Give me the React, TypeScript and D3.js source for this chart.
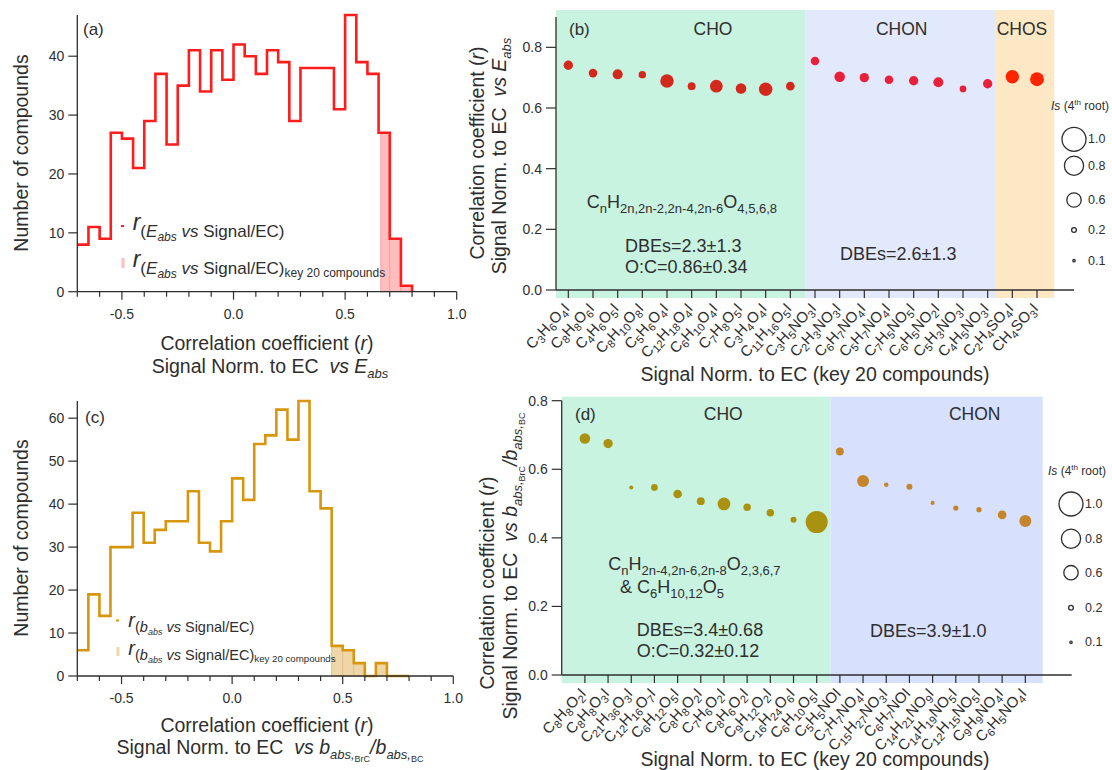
import React from 'react';
import * as d3 from 'd3';

const FONT = 'Arial, "Liberation Sans", Helvetica, sans-serif';
const INK = '#2e2e2e';

// ---------- histogram data (bin width 0.05 from -0.7 to 0.8) ----------
const binEdges = d3.range(31).map(i => +(-0.7 + i * 0.05).toFixed(2));
const countsA = [8, 11, 9, 27, 26, 21, 29, 37, 25, 35, 41, 34, 41, 36, 42, 40, 37, 41, 39, 29, 38, 38, 38, 31, 47, 39, 37, 27, 9, 1];
const keyEdgesA = [0.66, 0.7, 0.75, 0.8];
const keyCountsA = [27, 9, 1];
const countsC = [6, 19, 14, 30, 30, 38, 31, 34, 36, 36, 43, 31, 29, 36, 46, 41, 54, 56, 62, 55, 64, 43, 39, 7, 6, 3, 0, 3, 0, 0];
const keyEdgesC = [0.45, 0.5, 0.55, 0.6, 0.65, 0.7];
const keyCountsC = [7, 6, 3, 0, 3];
const histTicks = d3.range(18).map(i => +(-0.7 + i * 0.1).toFixed(1));
const histLabels = [-0.5, 0, 0.5, 1.0];
const yTicksA = [0, 10, 20, 30, 40];
const yTicksC = [0, 10, 20, 30, 40, 50, 60];

// ---------- key 20 compounds, panel (b) ----------
const compoundsB = ['C3H6O4I', 'C8H8O6I', 'C4H6O5I', 'C8H10O8I', 'C5H6O4I', 'C12H18O4I', 'C6H10O4I', 'C7H8O5I', 'C3H4O4I', 'C11H16O5I',
  'C3H5NO3I', 'C2H3NO3I', 'C6H7NO4I', 'C5H7NO4I', 'C7H5NO5I', 'C6H5NO2I', 'C5H3NO3I', 'C4H5NO3I', 'C2H4SO4I', 'CH4SO3I'];
const rB = [0.741, 0.715, 0.711, 0.710, 0.689, 0.672, 0.672, 0.664, 0.662, 0.672,
  0.755, 0.703, 0.700, 0.693, 0.690, 0.685, 0.663, 0.680, 0.703, 0.695];
const isB = [0.39, 0.36, 0.42, 0.31, 0.56, 0.33, 0.53, 0.44, 0.56, 0.36,
  0.36, 0.44, 0.39, 0.36, 0.39, 0.42, 0.28, 0.39, 0.56, 0.58];
const bandEdgesB = [0, 10.1, 17.8, 20.2];
const bandNamesB = ['CHO', 'CHON', 'CHOS'];

// ---------- key 20 compounds, panel (d) ----------
const compoundsD = ['C8H8O2I', 'C8H8O3I', 'C21H36O3I', 'C12H16O7I', 'C6H12O5I', 'C8H8O2I', 'C7H6O2I', 'C8H6O2I', 'C9H12O2I', 'C16H24O6I', 'C6H10O5I',
  'C5H5NOI', 'C7H7NO4I', 'C15H27NO3I', 'C6H7NOI', 'C14H21NO9I', 'C14H19NO5I', 'C12H15NO5I', 'C9H9NO4I', 'C6H5NO4I'];
const rD = [0.690, 0.675, 0.547, 0.547, 0.528, 0.507, 0.499, 0.489, 0.473, 0.453, 0.446,
  0.652, 0.566, 0.555, 0.549, 0.502, 0.487, 0.482, 0.467, 0.449];
const isD = [0.44, 0.39, 0.17, 0.28, 0.36, 0.33, 0.53, 0.31, 0.31, 0.25, 0.92,
  0.33, 0.50, 0.19, 0.25, 0.17, 0.22, 0.22, 0.36, 0.50];
const bandEdgesD = [0, 11.6, 20.75];
const bandNamesD = ['CHO', 'CHON'];

const yTicksBD = [0, 0.2, 0.4, 0.6, 0.8];
const isLegend = [1.0, 0.8, 0.6, 0.2, 0.1];

const groupOf = (f: string) => (f.includes('S') ? 'CHOS' : f.includes('N') ? 'CHON' : 'CHO');
const colorB: Record<string, string> = { CHO: '#d3291d', CHON: '#e8213b', CHOS: '#ff2400' };
const colorD: Record<string, string> = { CHO: '#a8920f', CHON: '#c5852d' };
const shadeB: Record<string, string> = { CHO: '#c9f3e1', CHON: '#e3e9fc', CHOS: '#fde8c5' };
const shadeD: Record<string, string> = { CHO: '#c9f3e1', CHON: '#d7e0fc' };

const rScale = d3.scaleLinear().domain([0, 1]).range([0, 12]);

type Seg = { t: string; o?: number; s?: number; i?: boolean };
const Rich = ({ segs, size }: { segs: Seg[]; size: number }) => {
  let cur = 0;
  return (
    <>
      {segs.map((g, k) => {
        const o = g.o ?? 0;
        const dy = o - cur;
        cur = o;
        return (
          <tspan key={k} dy={dy !== 0 ? dy : undefined} fontSize={g.s ?? size} fontStyle={g.i ? 'italic' : 'normal'}>
            {g.t}
          </tspan>
        );
      })}
    </>
  );
};

const chemSegs = (f: string, sub: number, shift: number): Seg[] =>
  (f.match(/[A-Za-z]+|\d+/g) || []).map(p => (/\d/.test(p) ? { t: p, o: shift, s: sub } : { t: p }));

const fmt1 = (v: number) => v.toFixed(1);

// ---------- histogram panel ----------
function Hist({ counts, keyEdges, keyCounts, x, y, yTicks, line, fill, fillStroke }: any) {
  const pts: [number, number][] = counts.map((c: number, i: number) => [binEdges[i], c]);
  pts.push([binEdges[binEdges.length - 1], 0]);
  const path = d3.line<[number, number]>().x(d => x(d[0])).y(d => y(d[1])).curve(d3.curveStepAfter)(pts) || '';
  const [x0, x1] = x.range();
  const [y0, y1] = y.range();
  return (
    <g>
      {keyCounts.map((c: number, i: number) => (
        <rect key={i} x={x(keyEdges[i])} y={y(c)} width={x(keyEdges[i + 1]) - x(keyEdges[i])} height={y0 - y(c)}
          fill={fill} stroke={fillStroke} strokeWidth={1} />
      ))}
      <path d={path} fill="none" stroke={line} strokeWidth={2.6} strokeLinejoin="miter" />
      <line x1={x0} x2={x1} y1={y0} y2={y0} stroke={INK} strokeWidth={1.3} />
      <line x1={x0} x2={x0} y1={y0} y2={y1} stroke={INK} strokeWidth={1.3} />
      {histTicks.map(t => (
        <line key={t} x1={x(t)} x2={x(t)} y1={y0} y2={y0 + (histLabels.includes(t) ? 8 : 5)} stroke={INK} strokeWidth={1.2} />
      ))}
      {histLabels.map(t => (
        <text key={t} x={x(t)} y={y0 + 27} textAnchor="middle" fontSize={14} fill={INK}>{fmt1(t)}</text>
      ))}
      {yTicks.map((t: number) => (
        <g key={t}>
          <line x1={x0 - 9} x2={x0} y1={y(t)} y2={y(t)} stroke={INK} strokeWidth={1.2} />
          <text x={x0 - 13} y={y(t) + 5} textAnchor="end" fontSize={14} fill={INK}>{t}</text>
        </g>
      ))}
    </g>
  );
}

// ---------- scatter panel ----------
function Scatter({ compounds, rs, iss, x, y, off, bandEdges, bandNames, colors, shades, shadeTop, legendX, legendY, legendLabelX }: any) {
  const [x0, x1] = x.range();
  const [y0, y1] = y.range();
  return (
    <g>
      {bandNames.map((n: string, i: number) => (
        <rect key={n} x={x(bandEdges[i])} width={x(bandEdges[i + 1]) - x(bandEdges[i])} y={shadeTop} height={y0 + 8 - shadeTop} fill={shades[n]} />
      ))}
      <line x1={x0} x2={x1} y1={y0} y2={y0} stroke={INK} strokeWidth={1.3} />
      <line x1={x0} x2={x0} y1={y0} y2={y1} stroke={INK} strokeWidth={1.3} />
      {yTicksBD.map(t => (
        <g key={t}>
          <line x1={x0 - 10} x2={x0} y1={y(t)} y2={y(t)} stroke={INK} strokeWidth={1.2} />
          <text x={x0 - 14} y={y(t) + 5} textAnchor="end" fontSize={14} fill={INK}>{fmt1(t)}</text>
        </g>
      ))}
      {compounds.map((c: string, i: number) => {
        const px = x(i + off);
        return (
          <g key={i}>
            <line x1={px} x2={px} y1={y0} y2={y0 + 8} stroke={INK} strokeWidth={1.2} />
            <text transform={`translate(${px + 2},${y0 + 19}) rotate(-47)`} textAnchor="end" fontSize={15} fill={INK}>
              <Rich segs={chemSegs(c, 11, 3.5)} size={15} />
            </text>
          </g>
        );
      })}
      {compounds.map((c: string, i: number) => (
        <circle key={'p' + i} cx={x(i + off)} cy={y(rs[i])} r={rScale(iss[i])} fill={colors[groupOf(c)]} />
      ))}
      <text x={legendX - 23} y={legendY[0] - 29} fontSize={12} fill={INK}>
        <tspan fontStyle="italic">Is</tspan>
        <tspan> (4</tspan>
        <tspan dy={-5} fontSize={8}>th</tspan>
        <tspan dy={5}> root)</tspan>
      </text>
      {isLegend.map((v, i) => (
        <g key={v}>
          <circle cx={legendX} cy={legendY[i]} r={rScale(v)} fill="none" stroke={INK} strokeWidth={1.3} />
          <text x={legendLabelX} y={legendY[i] + 4} fontSize={12.5} fill={INK}>{fmt1(v)}</text>
        </g>
      ))}
    </g>
  );
}

export default function App() {
  const xA = d3.scaleLinear().domain([-0.7, 1.0]).range([77.3, 456.7]);
  const yA = d3.scaleLinear().domain([0, 47]).range([291.7, 15]);
  const xC = d3.scaleLinear().domain([-0.7, 1.0]).range([77.3, 453.3]);
  const yC = d3.scaleLinear().domain([0, 64]).range([676, 401]);
  const xB = d3.scaleLinear().domain([0, 21]).range([556, 1074]);
  const yB = d3.scaleLinear().domain([0, 0.9]).range([290, 17]);
  const xD = d3.scaleLinear().domain([0, 22]).range([561.7, 1071.7]);
  const yD = d3.scaleLinear().domain([0, 0.8]).range([675, 400.7]);

  const corrSegs: Seg[] = [{ t: 'Correlation coefficient (' }, { t: 'r', i: true }, { t: ')' }];
  const eabsSegs: Seg[] = [{ t: 'Signal Norm. to EC\u00a0\u00a0' }, { t: 'vs E', i: true }, { t: 'abs', o: 5, s: 13, i: true }];
  const babsSegs: Seg[] = [
    { t: 'Signal Norm. to EC\u00a0\u00a0' }, { t: 'vs b', i: true }, { t: 'abs,', o: 5, s: 13, i: true }, { t: 'BrC', o: 8, s: 9 },
    { t: '/b', i: true }, { t: 'abs,', o: 5, s: 13, i: true }, { t: 'BC', o: 8, s: 9 },
  ];
  const legA1: Seg[] = [{ t: 'r', i: true, s: 23 }, { t: '(', o: 7 }, { t: 'E', o: 7, i: true }, { t: 'abs', o: 11, s: 12, i: true },
    { t: ' vs ', o: 7, i: true }, { t: 'Signal/EC)', o: 7 }];
  const legA2: Seg[] = [...legA1, { t: 'key 20 compounds', o: 10, s: 12 }];
  const legC1: Seg[] = [{ t: 'r', i: true, s: 20 }, { t: '(', o: 5 }, { t: 'b', o: 5, i: true }, { t: 'abs', o: 8, s: 9, i: true },
    { t: ' vs ', o: 5, i: true }, { t: 'Signal/EC)', o: 5 }];
  const legC2: Seg[] = [...legC1, { t: 'key 20 compounds', o: 7, s: 9.7 }];

  const formulaB: Seg[] = [{ t: 'C' }, { t: 'n', o: 5, s: 13 }, { t: 'H' }, { t: '2n,2n-2,2n-4,2n-6', o: 5, s: 13 }, { t: 'O' }, { t: '4,5,6,8', o: 5, s: 13 }];
  const formulaD1: Seg[] = [{ t: 'C' }, { t: 'n', o: 5, s: 13 }, { t: 'H' }, { t: '2n-4,2n-6,2n-8', o: 5, s: 13 }, { t: 'O' }, { t: '2,3,6,7', o: 5, s: 13 }];
  const formulaD2: Seg[] = [{ t: '& C' }, { t: '6', o: 5, s: 13 }, { t: 'H' }, { t: '10,12', o: 5, s: 13 }, { t: 'O' }, { t: '5', o: 5, s: 13 }];

  return (
    <svg width={1112} height={770} style={{ position: 'absolute', left: 0, top: 0, background: '#fff' }} fontFamily={FONT}>
      {/* (a) */}
      <Hist counts={countsA} keyEdges={keyEdgesA} keyCounts={keyCountsA} x={xA} y={yA} yTicks={yTicksA}
        line="#ff1c1c" fill="#ffbdbd" fillStroke="#f5a3a3" />
      <text x={83} y={35} fontSize={17} fill={INK}>(a)</text>
      <rect x={121} y={225} width={3} height={2} fill="#ff1c1c" />
      <text x={132.7} y={230} fill={INK}><Rich segs={legA1} size={17} /></text>
      <rect x={121.5} y={258} width={3} height={10} fill="#ffbdbd" />
      <text x={132.7} y={266.7} fill={INK}><Rich segs={legA2} size={17} /></text>
      <text transform="translate(28,153) rotate(-90)" textAnchor="middle" fontSize={19.5} fill={INK}>Number of compounds</text>
      <text x={267} y={350} textAnchor="middle" fill={INK}><Rich segs={corrSegs} size={19.5} /></text>
      <text x={270} y={372.7} textAnchor="middle" fill={INK}><Rich segs={eabsSegs} size={19.5} /></text>

      {/* (c) */}
      <Hist counts={countsC} keyEdges={keyEdgesC} keyCounts={keyCountsC} x={xC} y={yC} yTicks={yTicksC}
        line="#d8950e" fill="#eed6a8" fillStroke="#e2c285" />
      <text x={85} y={423} fontSize={17} fill={INK}>(c)</text>
      <rect x={116} y={619.5} width={3} height={2} fill="#d8950e" />
      <text x={128.3} y={626.7} fill={INK}><Rich segs={legC1} size={14.5} /></text>
      <rect x={116.5} y={647} width={3} height={9} fill="#eed6a8" />
      <text x={128.3} y={655} fill={INK}><Rich segs={legC2} size={14.5} /></text>
      <text transform="translate(28,538) rotate(-90)" textAnchor="middle" fontSize={19.5} fill={INK}>Number of compounds</text>
      <text x={267} y={731.7} textAnchor="middle" fill={INK}><Rich segs={corrSegs} size={19.5} /></text>
      <text x={270} y={754} textAnchor="middle" fill={INK}><Rich segs={babsSegs} size={19.5} /></text>

      {/* (b) */}
      <Scatter compounds={compoundsB} rs={rB} iss={isB} x={xB} y={yB} off={0.5} bandEdges={bandEdgesB} bandNames={bandNamesB}
        colors={colorB} shades={shadeB} shadeTop={10} legendX={1074} legendY={[139.3, 165.7, 200, 230, 260.7]} legendLabelX={1088} />
      <text x={569} y={35} fontSize={17} fill={INK}>(b)</text>
      <text x={713} y={35} textAnchor="middle" fontSize={17.5} fill={INK}>CHO</text>
      <text x={901.7} y={35} textAnchor="middle" fontSize={17.5} fill={INK}>CHON</text>
      <text x={1022} y={35} textAnchor="middle" fontSize={17.5} fill={INK}>CHOS</text>
      <text x={586.7} y={208} fill={INK}><Rich segs={formulaB} size={18} /></text>
      <text x={625} y={251.7} fontSize={18} fill={INK}>DBEs=2.3±1.3</text>
      <text x={625} y={272.7} fontSize={18} fill={INK}>O:C=0.86±0.34</text>
      <text x={840} y={260} fontSize={18} fill={INK}>DBEs=2.6±1.3</text>
      <text transform="translate(484,153) rotate(-90)" textAnchor="middle" fill={INK}><Rich segs={corrSegs} size={19.5} /></text>
      <text transform="translate(506,156) rotate(-90)" textAnchor="middle" fill={INK}><Rich segs={eabsSegs} size={19.5} /></text>
      <text x={815} y={381} textAnchor="middle" fontSize={19.5} fill={INK}>Signal Norm. to EC (key 20 compounds)</text>

      {/* (d) */}
      <Scatter compounds={compoundsD} rs={rD} iss={isD} x={xD} y={yD} off={1} bandEdges={bandEdgesD} bandNames={bandNamesD}
        colors={colorD} shades={shadeD} shadeTop={396.7} legendX={1071} legendY={[504, 538.7, 572.7, 607.7, 642.3]} legendLabelX={1085} />
      <text x={575} y={420} fontSize={17} fill={INK}>(d)</text>
      <text x={723.3} y={420} textAnchor="middle" fontSize={17.5} fill={INK}>CHO</text>
      <text x={974.7} y={420} textAnchor="middle" fontSize={17.5} fill={INK}>CHON</text>
      <text x={608.3} y={570} fill={INK}><Rich segs={formulaD1} size={18} /></text>
      <text x={620} y={593.3} fill={INK}><Rich segs={formulaD2} size={18} /></text>
      <text x={636.7} y={635.7} fontSize={18} fill={INK}>DBEs=3.4±0.68</text>
      <text x={636.7} y={656.7} fontSize={18} fill={INK}>O:C=0.32±0.12</text>
      <text x={870} y={636.7} fontSize={18} fill={INK}>DBEs=3.9±1.0</text>
      <text transform="translate(494,583) rotate(-90)" textAnchor="middle" fill={INK}><Rich segs={corrSegs} size={19.5} /></text>
      <text transform="translate(517,566) rotate(-90)" textAnchor="middle" fill={INK}><Rich segs={babsSegs} size={19.5} /></text>
      <text x={815} y={766} textAnchor="middle" fontSize={19.5} fill={INK}>Signal Norm. to EC (key 20 compounds)</text>
    </svg>
  );
}
